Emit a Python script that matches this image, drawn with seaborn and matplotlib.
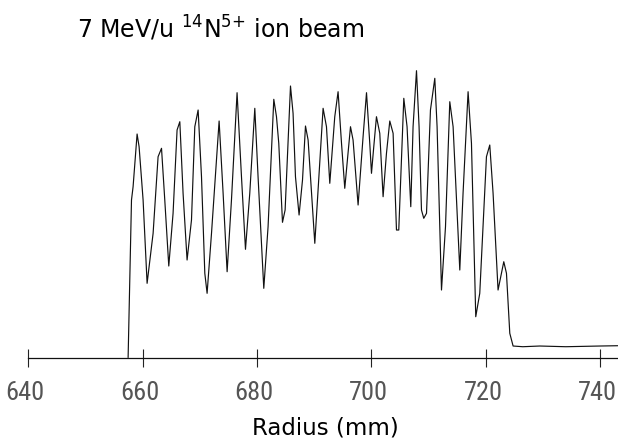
import numpy as np
import pandas as pd
import matplotlib
matplotlib.use('Agg')
import matplotlib.pyplot as plt
import matplotlib.transforms as mtransforms
from matplotlib import font_manager
import seaborn as sns

# Beam profile (signal in arbitrary units)
radius_mm = [657.45, 658.04, 658.32, 659.02, 659.37, 660.07, 660.77, 661.82, 662.69, 663.29,
             663.86, 664.56, 665.31, 666.01, 666.49, 667.06, 667.76, 668.53, 669.11, 669.69,
             670.28, 670.86, 671.26, 672.03, 673.36, 674.06, 674.76, 675.52, 676.50, 677.27,
             677.97, 678.72, 679.60, 680.17, 681.17, 681.92, 682.92, 683.39, 683.79, 684.44,
             684.90, 685.84, 686.29, 686.71, 687.34, 687.94, 688.46, 688.92, 690.09, 691.54,
             692.13, 692.71, 693.58, 694.16, 694.76, 695.33, 696.33, 696.78, 697.66, 698.53,
             699.13, 699.70, 700.00, 700.40, 700.87, 701.45, 702.03, 702.62, 703.20, 703.78,
             704.37, 704.77, 705.65, 706.22, 706.87, 707.27, 707.87, 708.32, 708.74, 709.14,
             709.62, 710.31, 711.07, 711.47, 712.24, 712.94, 713.69, 714.27, 715.44, 716.01,
             716.89, 717.48, 718.23, 718.93, 720.10, 720.68, 721.26, 722.13, 723.13, 723.60,
             724.18, 724.76, 726.45, 729.42, 733.97, 739.91, 743.06]
signal = [0.0, 157.5, 170.8, 223.5, 210.8, 157.5, 74.2, 124.2, 200.8, 209.2,
          157.5, 91.5, 144.2, 227.5, 235.8, 164.2, 97.5, 137.5, 230.8, 247.5,
          180.8, 84.2, 64.2, 124.2, 236.5, 164.2, 85.8, 157.5, 264.8, 180.8,
          108.2, 164.2, 249.2, 180.8, 69.2, 130.8, 258.2, 240.8, 214.2, 135.2,
          147.5, 271.5, 244.2, 180.8, 142.5, 177.5, 231.5, 217.5, 114.2, 249.2,
          230.8, 174.2, 240.8, 265.8, 214.2, 169.2, 230.8, 217.5, 152.5, 220.8,
          264.8, 214.2, 184.2, 210.8, 240.8, 224.2, 160.8, 204.2, 236.5, 224.2,
          127.5, 127.5, 259.2, 230.8, 150.8, 230.8, 286.8, 230.8, 147.5, 139.2,
          144.2, 247.5, 279.2, 230.8, 67.5, 130.8, 255.8, 230.8, 87.5, 164.2,
          265.8, 214.2, 40.8, 64.2, 200.8, 212.5, 164.2, 67.5, 95.8, 84.2,
          24.2, 11.5, 10.8, 11.5, 10.8, 11.5, 11.8]

tick_values = [640, 660, 680, 700, 720, 740]
title_text = r'7 MeV/u $^{14}$N$^{5{+}}$ ion beam'
xlabel_text = 'Radius (mm)'

sns.set_theme(style='white')
plt.rcParams['font.family'] = ['DejaVu Sans']
plt.rcParams['mathtext.default'] = 'regular'

# the plotter digits are tall and narrow; use a condensed face if one is installed
names = {f.name for f in font_manager.fontManager.ttflist}
narrow = [n for n in ['Liberation Sans Narrow', 'Roboto Condensed', 'Open Sans Condensed',
                      'DejaVu Sans Condensed'] if n in names]
condensed_dejavu = any(f.name == 'DejaVu Sans' and f.stretch == 'condensed'
                       for f in font_manager.fontManager.ttflist)
if narrow:
    tick_font = dict(family=narrow[0], fontsize=19)
elif condensed_dejavu:
    tick_font = dict(family='DejaVu Sans', fontstretch='condensed', fontsize=17)
else:
    tick_font = dict(family='DejaVu Sans', fontsize=15)

df = pd.DataFrame({'radius': radius_mm, 'signal': signal})

fig = plt.figure(figsize=(6.18, 4.41), dpi=100)
ax = fig.add_axes([0.0458, 0.1893, 0.9542, 0.6803])

sns.lineplot(data=df, x='radius', y='signal', sort=False, estimator=None,
             color='#111111', linewidth=0.85, ax=ax)

ax.set_xlim(640, 743.1)
ax.set_ylim(0, 300)
ax.set_xlabel('')
ax.set_ylabel('')
ax.set_yticks([])
ax.set_xticks(tick_values)
ax.set_xticklabels([str(t) for t in tick_values], color='#555555', **tick_font)
ax.tick_params(axis='x', direction='inout', length=13.5, width=0.8,
               color='#222222', pad=10, bottom=True)

for side in ['left', 'top', 'right']:
    ax.spines[side].set_visible(False)
ax.spines['bottom'].set_color('#111111')
ax.spines['bottom'].set_linewidth(0.9)

# tick labels sit a little left of their ticks in the original
offset = mtransforms.ScaledTranslation(-3 / 100, 0, fig.dpi_scale_trans)
for lab in ax.get_xticklabels():
    lab.set_transform(lab.get_transform() + offset)

fig.text(0.1246, 0.913, title_text, fontsize=17, color='black',
         ha='left', va='baseline')
fig.text(0.5267, 0.0152, xlabel_text, fontsize=16.5, color='black',
         ha='center', va='baseline')

fig.savefig('out.png', dpi=100)
